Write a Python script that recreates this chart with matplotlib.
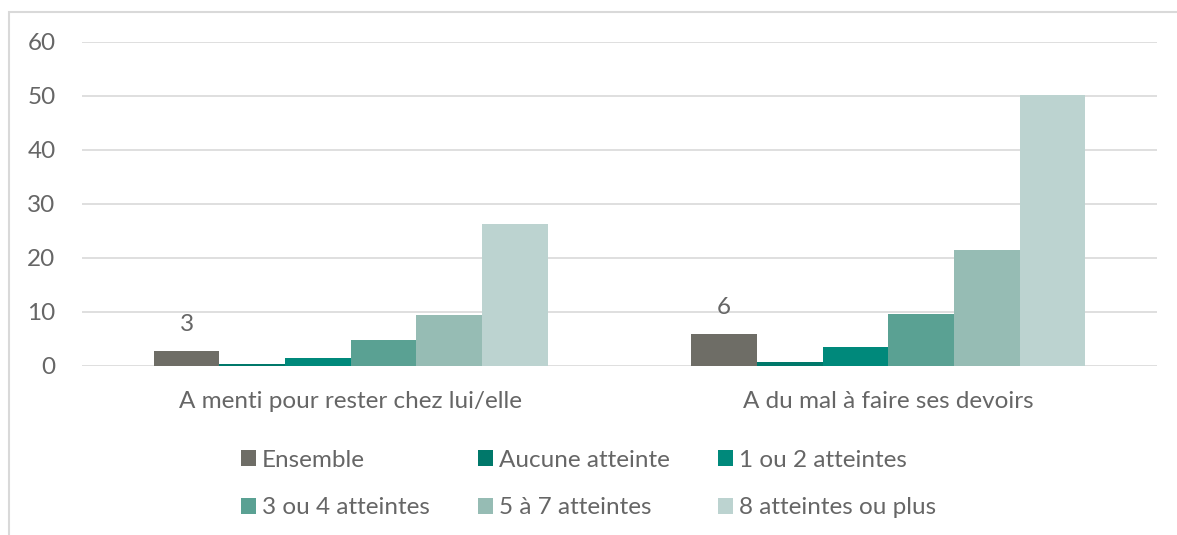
import matplotlib.pyplot as plt
import numpy as np
from matplotlib.patches import Rectangle

categories = ['A menti pour rester chez lui/elle', 'A du mal à faire ses devoirs']
series = ['Ensemble', 'Aucune atteinte', '1 ou 2 atteintes',
          '3 ou 4 atteintes', '5 à 7 atteintes', '8 atteintes ou plus']
ensemble = [2.8, 5.9]
aucune = [0.3, 0.7]
un_deux = [1.4, 3.5]
trois_quatre = [4.9, 9.7]
cinq_sept = [9.5, 21.5]
huit_plus = [26.3, 50.2]
labels_ensemble = ['3', '6']

values = [ensemble, aucune, un_deux, trois_quatre, cinq_sept, huit_plus]
colors = ['#6e6d66', '#00786a', '#00897b', '#5aa193', '#96bcb4', '#bcd3d0']
txt = '#666666'

plt.rcParams['font.family'] = ['Lato', 'DejaVu Sans']
fs = 17.5

fig = plt.figure(figsize=(11.77, 5.35), dpi=100)
ax = fig.add_axes([82/1177, 1-366/535, (1157-82)/1177, (366-42)/535])

# cadre du graphique
fig.patches.append(Rectangle((9/1177, -0.1), 1.2, 1.1 - 12/535,
                             transform=fig.transFigure, fill=False,
                             edgecolor='#d9d9d9', linewidth=1.5))

x = np.arange(len(categories))
w = 0.733 / len(series)
handles = []
for i, (name, vals) in enumerate(zip(series, values)):
    pos = x - 0.733/2 + w/2 + i*w
    bars = ax.bar(pos, vals, w, color=colors[i], label=name, zorder=3)
    handles.append(bars)
    if i == 0:
        for b, lab in zip(bars, labels_ensemble):
            ax.text(b.get_x() + b.get_width()/2, b.get_height() + 3.0, lab,
                    ha='center', va='bottom', fontsize=fs, color=txt)

ax.set_xlim(-0.5, 1.5)
ax.set_ylim(0, 60)
ax.set_yticks(range(0, 61, 10))
ax.grid(axis='y', color='#d9d9d9', linewidth=1.2, zorder=0)
for s in ax.spines.values():
    s.set_visible(False)
ax.tick_params(length=0, labelsize=fs, colors=txt)
ax.tick_params(axis='y', pad=19)
ax.tick_params(axis='x', pad=18)
ax.set_xticks(x)
ax.set_xticklabels(categories)

# ordre ligne par ligne dans la légende
order = [0, 3, 1, 4, 2, 5]
fig.legend([handles[k] for k in order], [series[k] for k in order],
           loc='center', bbox_to_anchor=(0.5, 1 - 484/535), ncol=3,
           frameon=False, fontsize=fs, labelcolor=txt, handlelength=0.6,
           handleheight=0.6, handletextpad=0.25, columnspacing=2.0,
           labelspacing=1.1)

fig.savefig('out.png', dpi=100)
